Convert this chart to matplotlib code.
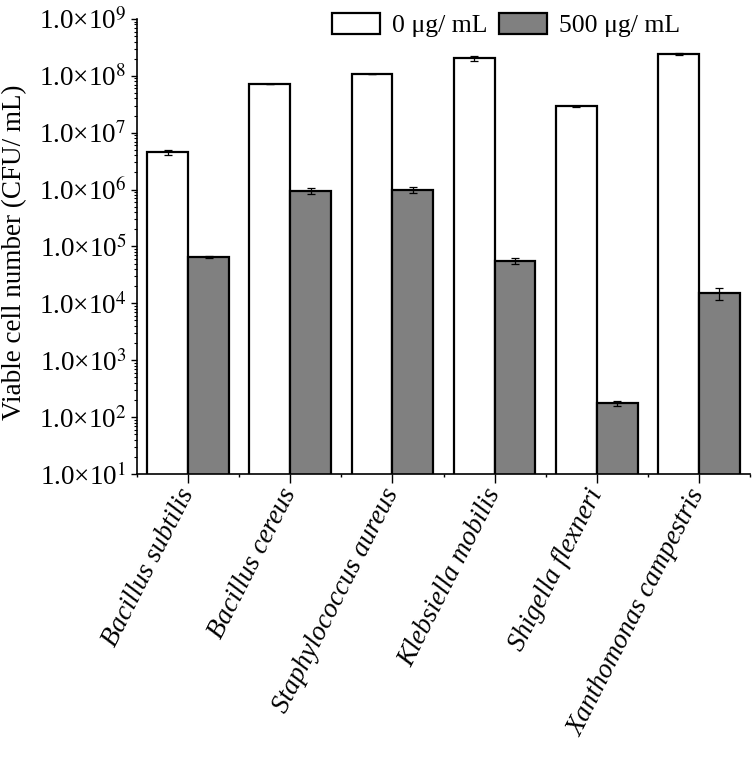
import numpy as np
import matplotlib
matplotlib.use('Agg')
import matplotlib.pyplot as plt
from matplotlib.ticker import FixedLocator, LogLocator, NullFormatter

# --- dane ---
strains = ["Bacillus subtilis", "Bacillus cereus", "Staphylococcus aureus",
           "Klebsiella mobilis", "Shigella flexneri", "Xanthomonas campestris"]
ctrl = [4.5e6, 7.2e7, 1.07e8, 2.05e8, 2.95e7, 2.4e8]
ctrl_err = [0.5e6, 0.0, 0.0, 2.0e7, 0.6e6, 8.0e6]
treat = [6.5e4, 9.5e5, 1.0e6, 5.6e4, 175.0, 1.5e4]
treat_err = [2.5e3, 1.0e5, 1.3e5, 7.0e3, 18.0, 3.5e3]
series_labels = ["0 μg/ mL", "500 μg/ mL"]
ytick_exp = [1, 2, 3, 4, 5, 6, 7, 8, 9]

plt.rcParams['font.family'] = ['Liberation Serif', 'STIXGeneral', 'DejaVu Serif']
plt.rcParams['mathtext.fontset'] = 'stix'

fig = plt.figure(figsize=(7.55, 7.59), dpi=100)
ax = fig.add_axes([0.1815, 0.3755, 0.8119, 0.5995])

x = np.arange(len(strains))
w = 0.4
lw = 1.6
ax.bar(x - w / 2, ctrl, width=w, color="white", edgecolor="black", linewidth=lw,
       label=series_labels[0], zorder=2)
ax.bar(x + w / 2, treat, width=w, color="#808080", edgecolor="black", linewidth=lw,
       label=series_labels[1], zorder=2)
ax.errorbar(x - w / 2, ctrl, yerr=ctrl_err, fmt="none", ecolor="black",
            elinewidth=0.9, capsize=3, capthick=0.9, zorder=3)
ax.errorbar(x + w / 2, treat, yerr=treat_err, fmt="none", ecolor="black",
            elinewidth=0.9, capsize=3, capthick=0.9, zorder=3)

ax.set_yscale("log")
ax.set_ylim(1e1, 1e9)
ax.set_xlim(-0.5, len(strains) - 0.5)

ax.yaxis.set_major_locator(FixedLocator([10.0 ** e for e in ytick_exp]))
ax.set_yticklabels(["1.0×10$^{%d}$" % e for e in ytick_exp])
ax.yaxis.set_minor_locator(LogLocator(base=10, subs=np.arange(2, 10), numticks=20))
ax.yaxis.set_minor_formatter(NullFormatter())

ax.set_xticks(x)
ax.set_xticks(np.arange(-0.5, len(strains)), minor=True)
ax.set_xticklabels(strains, rotation=63, ha="right", va="center",
                   rotation_mode="anchor", fontstyle="italic", fontsize=19.5)

ax.tick_params(axis="y", which="major", direction="out", length=4.5, width=1, labelsize=19.5, pad=3)
ax.tick_params(axis="y", which="minor", direction="out", length=2.5, width=0.8)
ax.tick_params(axis="x", which="major", direction="out", length=6.5, width=1, pad=5)
ax.tick_params(axis="x", which="minor", direction="out", length=2.5, width=1)

for s in ["top", "right"]:
    ax.spines[s].set_visible(False)
for s in ["left", "bottom"]:
    ax.spines[s].set_linewidth(1.2)

fig.text(15 / 755, 1 - 252 / 759, "Viable cell number (CFU/ mL)", rotation=90,
         ha="center", va="center", fontsize=19.5)

ax.legend(loc="center left", bbox_to_anchor=(332 / 755, 1 - 25 / 759), bbox_transform=fig.transFigure,
          ncol=2, frameon=False, fontsize=18.5, handlelength=1.87, handleheight=0.93,
          handletextpad=0.47, columnspacing=0.45, borderaxespad=0, borderpad=0)

fig.savefig("out.png", dpi=100)
